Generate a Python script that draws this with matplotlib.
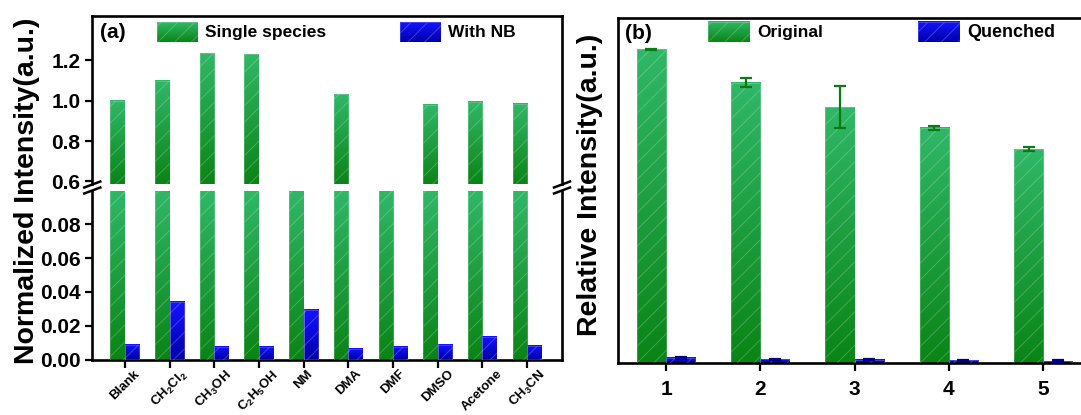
import numpy as np
import matplotlib
matplotlib.use("Agg")
import matplotlib.pyplot as plt
from matplotlib.colors import LinearSegmentedColormap
from matplotlib.patches import Rectangle
from matplotlib.lines import Line2D

plt.rcParams['font.family'] = 'Liberation Sans'
plt.rcParams['font.weight'] = 'bold'
plt.rcParams['mathtext.fontset'] = 'custom'
plt.rcParams['mathtext.rm'] = 'Liberation Sans:bold'
plt.rcParams['mathtext.default'] = 'rm'
plt.rcParams['hatch.linewidth'] = 0.7

# panel (a): solvents
solvents = ['Blank', 'CH$_2$Cl$_2$', 'CH$_3$OH', 'C$_2$H$_5$OH', 'NM', 'DMA',
            'DMF', 'DMSO', 'Acetone', 'CH$_3$CN']
single_species = [1.00, 1.10, 1.236, 1.231, 0.50, 1.032, 0.50, 0.980, 0.996, 0.986]
with_nb = [0.0085, 0.0342, 0.0075, 0.0074, 0.0294, 0.0061, 0.0075, 0.0085, 0.0134, 0.0079]

# panel (b): cycles
cycles = [1, 2, 3, 4, 5]
original = [1.000, 0.894, 0.816, 0.750, 0.682]
original_err = [0.002, 0.014, 0.066, 0.007, 0.006]
quenched = [0.016, 0.012, 0.010, 0.009, 0.006]
quenched_err = [0.002, 0.002, 0.002, 0.002, 0.002]

GREEN_TOP, GREEN_BOT = '#30b868', '#0a8416'
BLUE_TOP, BLUE_BOT = '#1414ff', '#0000a8'
HATCH_COL = (1, 1, 1, 0.22)
W, H = 1081, 415

def cmap_of(top, bot):
    return LinearSegmentedColormap.from_list('g', [bot, top])

GRAD = np.linspace(0, 1, 256).reshape(-1, 1)

def gradient_bars(ax, x, heights, width, top, bot, ylim, err=None, ecolor=None):
    cm = cmap_of(top, bot)
    bars = ax.bar(x, heights, width, facecolor='none', edgecolor=HATCH_COL,
                  hatch='//', lw=0.6, zorder=3)
    for b in bars:
        x0, w = b.get_x(), b.get_width()
        y0 = max(b.get_y(), ylim[0])
        y1 = min(b.get_y() + b.get_height(), ylim[1])
        if y1 <= y0:
            continue
        ax.imshow(GRAD, extent=[x0, x0 + w, y0, y1], origin='lower', cmap=cm,
                  aspect='auto', zorder=2, interpolation='bilinear')
    if err is not None:
        ax.errorbar(x, heights, yerr=err, fmt='none', ecolor=ecolor, elinewidth=1.6,
                    capsize=4, capthick=1.6, zorder=4)
    return bars

def legend_patch(ax, x0, x1, y0, y1, top, bot, label, fs=12.5):
    ax.imshow(GRAD, extent=[x0, x1, y0, y1], origin='lower', cmap=cmap_of(top, bot),
              aspect='auto', transform=ax.transAxes, zorder=5, interpolation='bilinear')
    ax.add_patch(Rectangle((x0, y0), x1 - x0, y1 - y0, transform=ax.transAxes,
                           facecolor='none', edgecolor=HATCH_COL, hatch='//',
                           lw=0.6, zorder=6))
    ax.text(x1 + 0.015, (y0 + y1) / 2, label, transform=ax.transAxes, fontsize=fs,
            fontweight='bold', va='center', ha='left', zorder=6)

def fx(px):
    return px / W

def fy(py):
    return 1 - py / H

fig = plt.figure(figsize=(W / 100, H / 100), dpi=100)

# ---- (a) broken axis ----
left_a, right_a = 92.3, 562
ax_top = fig.add_axes([fx(left_a), fy(184), fx(right_a - left_a), (184 - 16) / H])
ax_bot = fig.add_axes([fx(left_a), fy(359.5), fx(right_a - left_a), (359.5 - 190.7) / H])

xa = np.arange(len(solvents))
bw = 0.325
top_lim = (0.587, 1.42)
bot_lim = (0.0, 0.1)
for ax, lim in ((ax_top, top_lim), (ax_bot, bot_lim)):
    gradient_bars(ax, xa - bw / 2, single_species, bw, GREEN_TOP, GREEN_BOT, lim)
    gradient_bars(ax, xa + bw / 2, with_nb, bw, BLUE_TOP, BLUE_BOT, lim)
    ax.set_xlim(-0.73, 9.78)
    ax.set_ylim(*lim)
    for s in ax.spines.values():
        s.set_linewidth(1.9)
    ax.tick_params(direction='out', width=1.6, length=5, labelsize=15)

ax_top.spines['bottom'].set_visible(False)
ax_bot.spines['top'].set_visible(False)
ax_top.set_xticks([])
ax_top.set_yticks([0.6, 0.8, 1.0, 1.2])
ax_top.set_yticklabels(['0.6', '0.8', '1.0', '1.2'])
ax_bot.set_yticks([0.0, 0.02, 0.04, 0.06, 0.08])
ax_bot.set_yticklabels(['0.00', '0.02', '0.04', '0.06', '0.08'])
ax_bot.set_xticks(xa)
ax_bot.set_xticklabels(solvents, rotation=45, ha='center', va='top', fontsize=9.5)
ax_bot.tick_params(axis='x', length=6, pad=0)

ax_top.text(0.017, 0.9, '(a)', transform=ax_top.transAxes, fontsize=15,
            fontweight='bold', va='center', ha='left')
legend_patch(ax_top, 0.138, 0.225, 0.845, 0.964, GREEN_TOP, GREEN_BOT, 'Single species')
legend_patch(ax_top, 0.655, 0.742, 0.845, 0.964, BLUE_TOP, BLUE_BOT, 'With NB')
ax_top.set_xlim(-0.73, 9.78)
ax_top.set_ylim(*top_lim)

# break marks on both spines
for xb in (left_a, right_a):
    for yb in (184.5, 190.5):
        fig.add_artist(Line2D([fx(xb - 8), fx(xb + 8)], [fy(yb + 3), fy(yb - 3)],
                              color='black', lw=1.8, transform=fig.transFigure))

fig.text(fx(27), fy(191), 'Normalized Intensity(a.u.)', rotation=90, fontsize=20.5,
         fontweight='bold', ha='center', va='center')

# ---- (b) ----
ax_b = fig.add_axes([fx(618), fy(363), fx(1095 - 618), (363 - 18) / H])
bw_b = 0.31
b_lim = (0, 1.1)
xb_ = np.array(cycles)
gradient_bars(ax_b, xb_ - bw_b / 2, original, bw_b, GREEN_TOP, GREEN_BOT, b_lim,
              err=original_err, ecolor='#0a7a14')
gradient_bars(ax_b, xb_ + bw_b / 2, quenched, bw_b, BLUE_TOP, BLUE_BOT, b_lim,
              err=quenched_err, ecolor='#00008a')
ax_b.set_xticks(cycles)
ax_b.set_xticklabels([str(c) for c in cycles])
ax_b.set_yticks([])
for s in ax_b.spines.values():
    s.set_linewidth(1.9)
ax_b.tick_params(direction='out', width=1.6, length=6, labelsize=15, pad=6)
ax_b.text(0.015, 0.954, '(b)', transform=ax_b.transAxes, fontsize=15,
          fontweight='bold', va='center', ha='left')
legend_patch(ax_b, 0.189, 0.277, 0.930, 0.988, GREEN_TOP, GREEN_BOT, 'Original')
legend_patch(ax_b, 0.629, 0.717, 0.930, 0.988, BLUE_TOP, BLUE_BOT, 'Quenched', fs=13)
ax_b.set_xlim(0.49, 5.55)
ax_b.set_ylim(*b_lim)

fig.text(fx(590), fy(185), 'Relative Intensity(a.u.)', rotation=90, fontsize=20.5,
         fontweight='bold', ha='center', va='center')

fig.savefig('out.png', dpi=100)
